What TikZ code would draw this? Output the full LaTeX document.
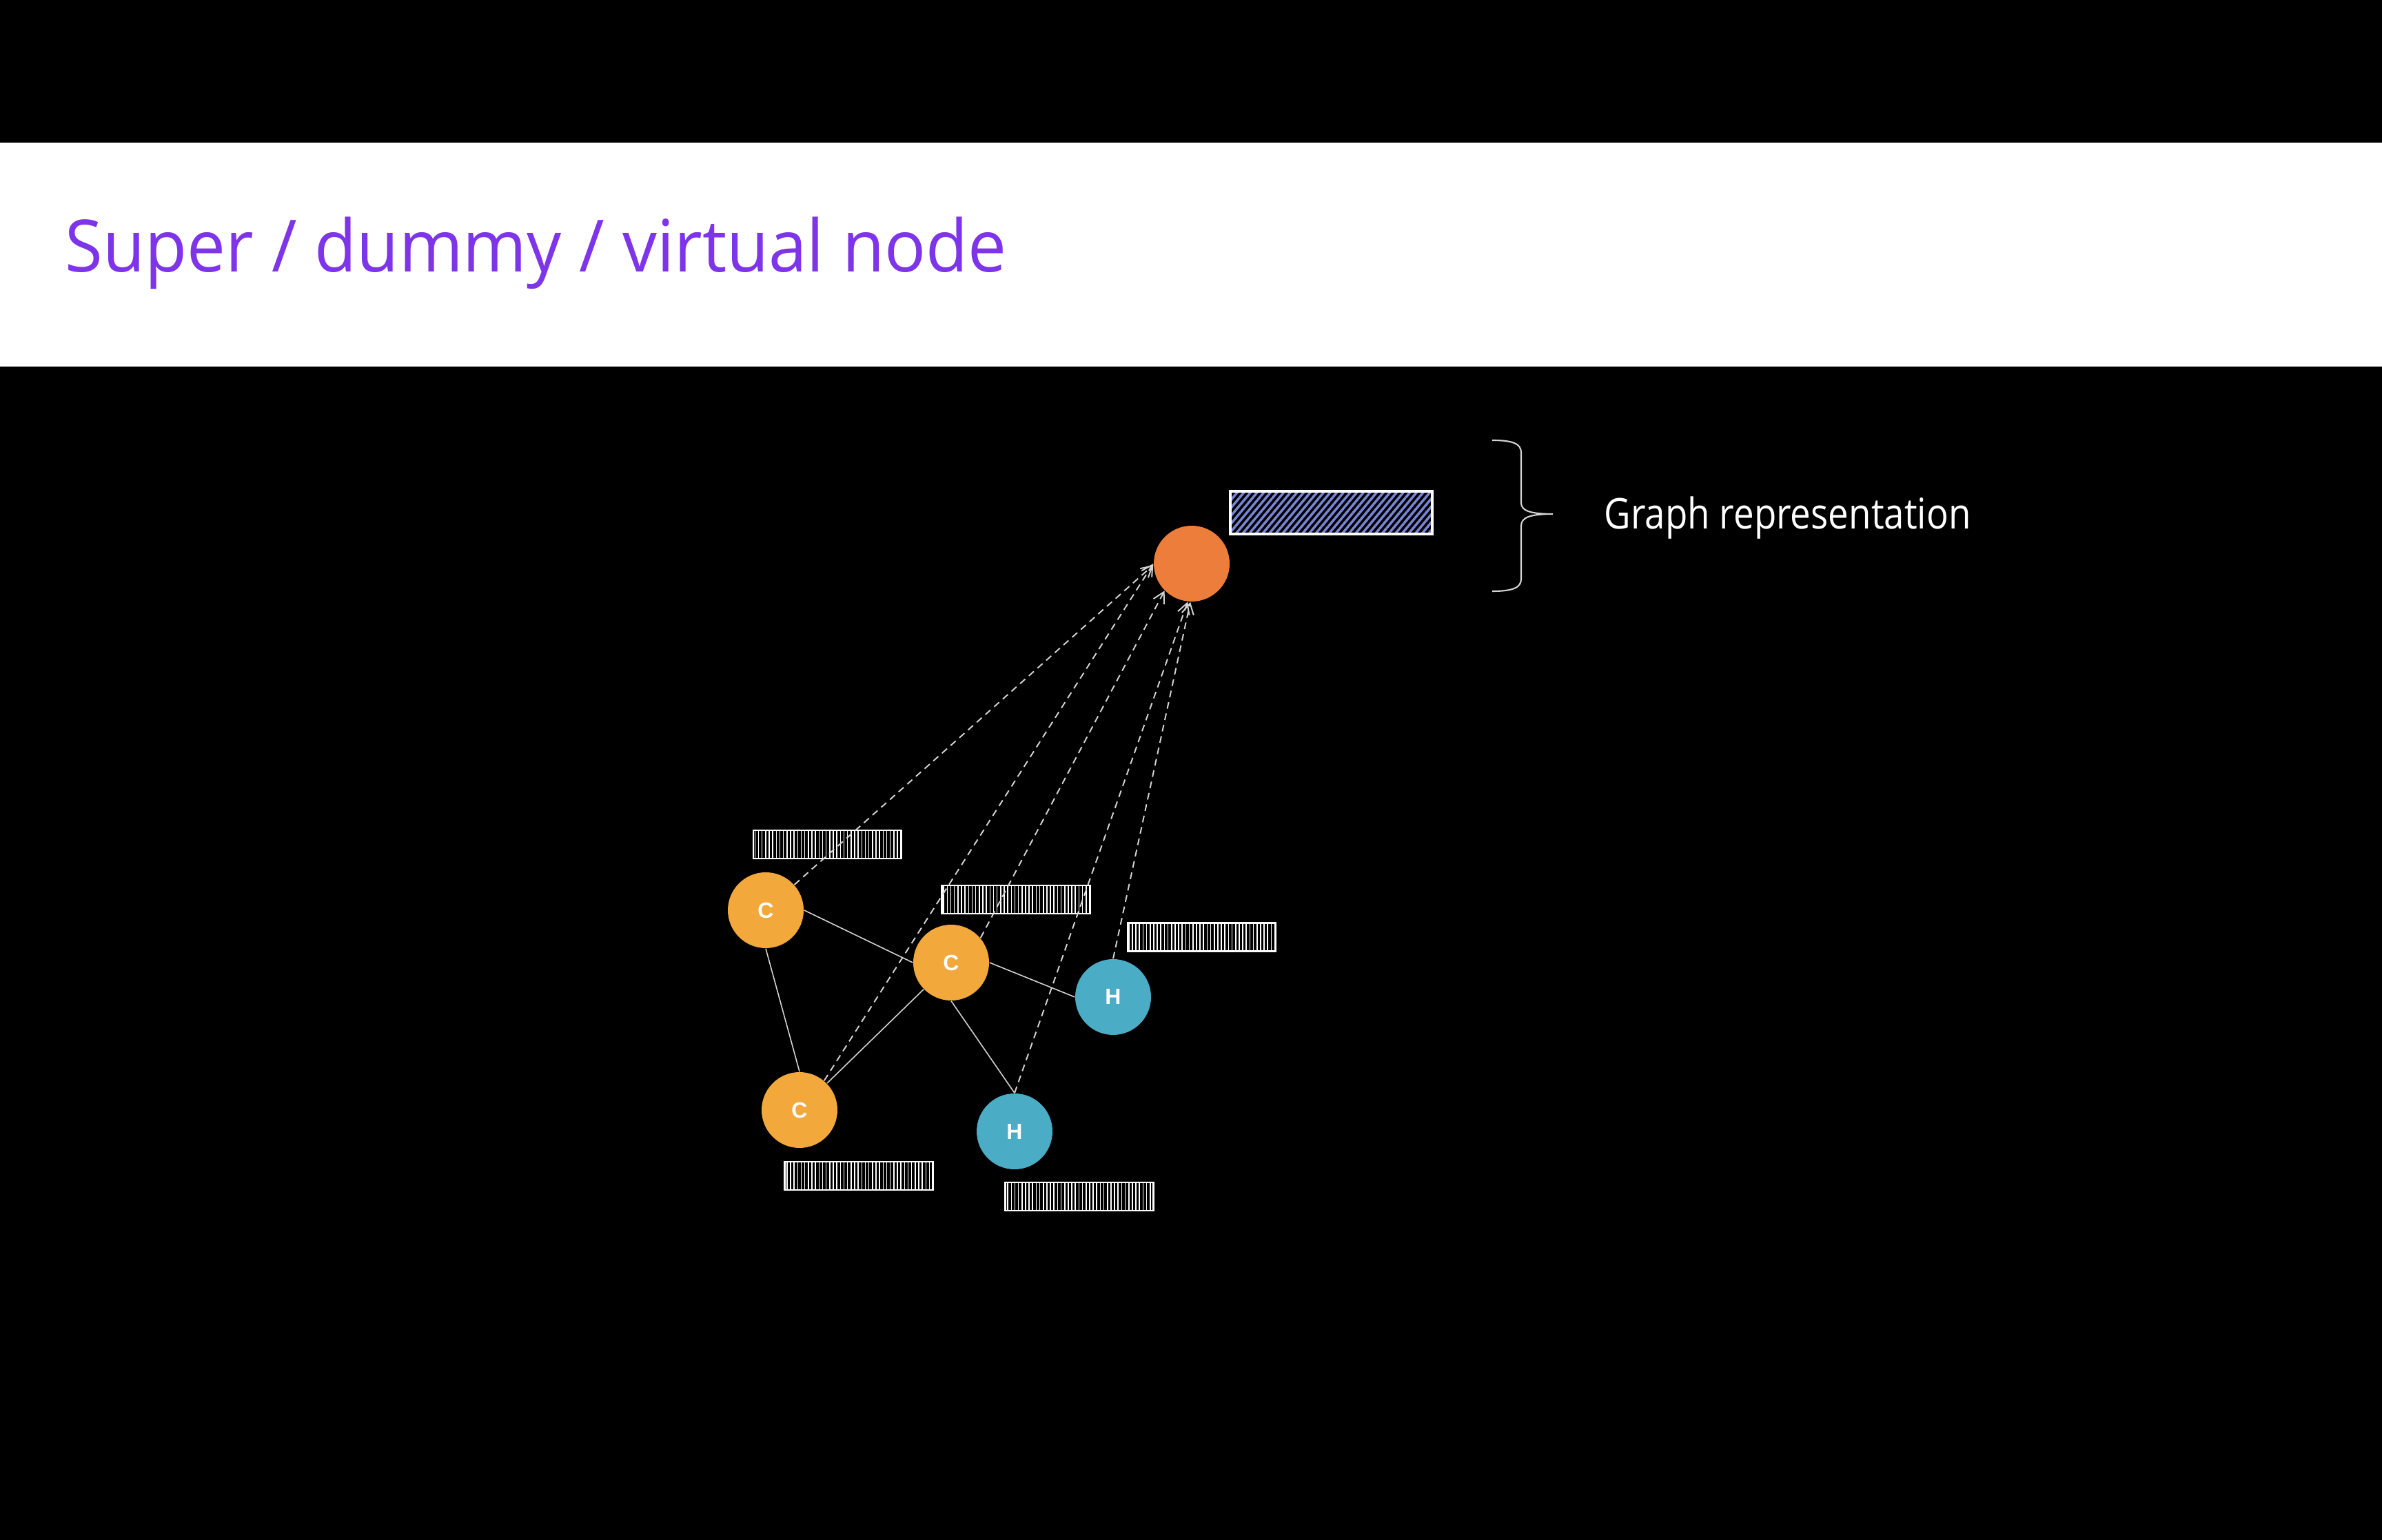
\documentclass[tikz,border=0pt]{standalone}
\usepackage{fontspec}
\usepackage{tikz}
\usetikzlibrary{arrows.meta,patterns.meta}
\setmainfont{Open Sans}
\newfontfamily\titlefont[FakeStretch=0.952]{Open Sans}
\newfontfamily\labelfont[FakeStretch=0.86]{Open Sans}
\newfontfamily\atomfont{Liberation Sans}
\definecolor{titlepurple}{RGB}{126,52,232}
\definecolor{supercol}{RGB}{237,125,58}
\definecolor{carbcol}{RGB}{242,168,59}
\definecolor{hydcol}{RGB}{75,172,198}
\definecolor{hatchblue}{RGB}{123,134,214}
\definecolor{edgegray}{RGB}{212,212,212}

\begin{document}
\begin{tikzpicture}[>={Straight Barb[length=4.5pt,width=5pt]},
    atom/.style={circle,minimum size=1.1cm,inner sep=0pt,text=white,font=\atomfont\bfseries\fontsize{9.1}{11}\selectfont},
    featbox/.style={draw=white,line width=0.8pt,minimum width=2.15cm,minimum height=0.41cm,inner sep=0pt,
      pattern={Lines[angle=90,distance=1.47pt,line width=0.45pt]},pattern color=white},
    bond/.style={draw=edgegray,line width=0.45pt},
    readout/.style={->,draw=edgegray,line width=0.55pt,dash pattern=on 2.8pt off 2pt}]
        \useasboundingbox (0,0) rectangle (34.56,22.34);
        \fill[black] (-0.2,-0.2) rectangle (34.76,22.54);
        \fill[white] (-0.2,17.02) rectangle (34.76,20.27);

        \node[anchor=base west,inner sep=0pt,text=titlepurple,font=\titlefont\fontsize{29.8}{36}\selectfont] (title) at (0.94,18.39) {Super / dummy / virtual node};

        \node[atom,fill=supercol] (super) at (17.29,14.16) {};
        \node[draw=white,line width=1pt,minimum width=2.93cm,minimum height=0.62cm,inner sep=0pt,
          pattern={Lines[angle=50,distance=2.1pt,line width=1pt]},pattern color=hatchblue] (graphvec) at (19.315,14.90) {};

        \draw[edgegray,line width=0.6pt] (21.65,15.95) .. controls (21.95,15.95) and (22.07,15.90) .. (22.07,15.77)
          -- (22.07,15.04) .. controls (22.07,14.93) and (22.20,14.88) .. (22.53,14.88)
          .. controls (22.20,14.88) and (22.07,14.83) .. (22.07,14.71)
          -- (22.07,13.94) .. controls (22.07,13.81) and (21.95,13.76) .. (21.65,13.76);
        \node[anchor=base west,inner sep=0pt,text=white,font=\labelfont\fontsize{17.5}{21}\selectfont] (graphlabel) at (23.27,14.66) {Graph representation};

        \node[atom,fill=carbcol] (c1) at (11.11,9.13) {C};
        \node[atom,fill=carbcol] (c2) at (13.80,8.37) {C};
        \node[atom,fill=hydcol] (h1) at (16.15,7.87) {H};
        \node[atom,fill=carbcol] (c3) at (11.60,6.23) {C};
        \node[atom,fill=hydcol] (h2) at (14.72,5.92) {H};

        \node[featbox] (f1) at (12.005,10.085) {};
        \node[featbox] (f2) at (14.74,9.285) {};
        \node[featbox] (f3) at (17.435,8.74) {};
        \node[featbox] (f4) at (12.46,5.275) {};
        \node[featbox] (f5) at (15.66,4.975) {};

        \draw[bond] (c1.east) -- (c2.west);
        \draw[bond] (c1.south) -- (c3.north);
        \draw[bond] (c2) -- (c3);
        \draw[bond] (c2.east) -- (h1.west);
        \draw[bond] (c2.south) -- (h2.north);

        \draw[readout] (c1) -- (super.182);
        \draw[readout] (c3.50) -- (super.180);
        \draw[readout] (c2.40) -- (super.225);
        \draw[readout] (h2.north) -- (super.264);
        \draw[readout] (h1.north) -- (super.268);
      \end{tikzpicture}
\end{document}
